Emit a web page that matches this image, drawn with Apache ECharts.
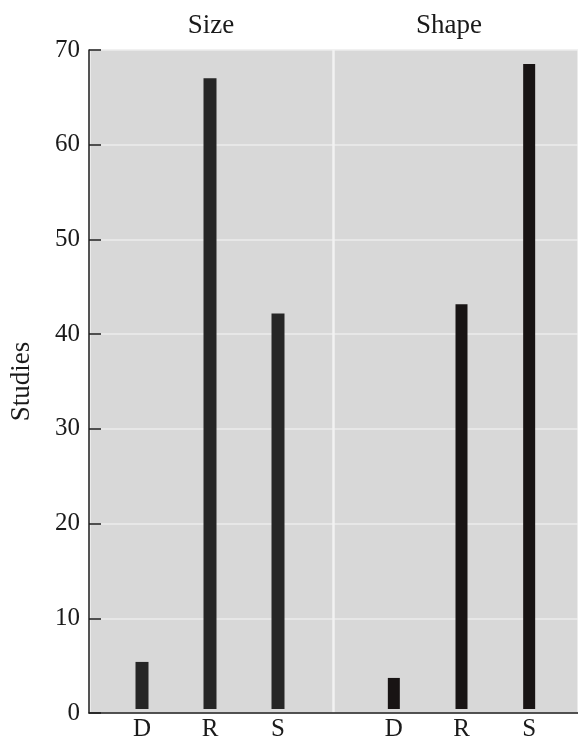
<!DOCTYPE html>
<html>
<head>
<meta charset="utf-8">
<script src="https://cdn.jsdelivr.net/npm/echarts@6/dist/echarts.min.js"></script>
<style>
  html, body { margin: 0; padding: 0; background: #ffffff; }
  #chart { width: 578px; height: 742px; }
</style>
</head>
<body>
<div id="chart"></div>
<script>
const groups = ['Size', 'Shape'];
const categories = ['D', 'R', 'S'];
const sizeValues = [5, 67, 42];
const shapeValues = [3.3, 43, 68.5];
const yAxisName = 'Studies';
const yMin = 0, yMax = 70, yInterval = 10;

const FONT = 'Liberation Serif';
const TOP = 50, BOTTOM = 29;
const chart = echarts.init(document.getElementById('chart'), null, { renderer: 'canvas' });

const titleStyle = { fontFamily: FONT, fontSize: 27, fontWeight: 'normal', color: '#1a1a1a' };
const option = {
  backgroundColor: '#ffffff',
  animation: false,
  title: [
    { text: groups[0], left: 211, top: 12, textAlign: 'center', padding: 0, textStyle: titleStyle },
    { text: groups[1], left: 449, top: 12, textAlign: 'center', padding: 0, textStyle: titleStyle }
  ],
  grid: [
    { left: 89, right: 0, top: TOP, bottom: BOTTOM, show: true, backgroundColor: '#d8d8d8', borderWidth: 0, containLabel: false },
    { left: 108, width: 204, top: TOP, bottom: BOTTOM, containLabel: false },
    { left: 360, width: 203, top: TOP, bottom: BOTTOM, containLabel: false }
  ],
  xAxis: [
    { gridIndex: 0, type: 'value', min: 0, max: 2, interval: 1,
      axisLine: { show: true, onZero: false, lineStyle: { color: '#1e1e1e', width: 1.5 } },
      axisTick: { show: false }, axisLabel: { show: false },
      splitLine: { show: true, lineStyle: { color: '#f2f2f2', width: 2.5 } } },
    { gridIndex: 1, type: 'category', data: categories,
      axisLine: { show: false }, axisTick: { show: false },
      axisLabel: { fontFamily: FONT, fontSize: 25, color: '#1a1a1a', margin: 8 } },
    { gridIndex: 2, type: 'category', data: categories,
      axisLine: { show: false }, axisTick: { show: false },
      axisLabel: { fontFamily: FONT, fontSize: 25, color: '#1a1a1a', margin: 8 } }
  ],
  yAxis: [
    { gridIndex: 0, type: 'value', min: yMin, max: yMax, interval: yInterval,
      name: yAxisName, nameLocation: 'middle', nameGap: 54, nameRotate: 90,
      nameTextStyle: { fontFamily: FONT, fontSize: 27, color: '#1a1a1a' },
      axisLine: { show: true, lineStyle: { color: '#1e1e1e', width: 1.5 } },
      axisTick: { show: true, inside: true, length: 12, lineStyle: { color: '#1e1e1e', width: 1.5 } },
      axisLabel: { fontFamily: FONT, fontSize: 25, color: '#1a1a1a', margin: 9 },
      splitLine: { show: true, lineStyle: { color: '#ececec', width: 1.5 } } },
    { gridIndex: 1, type: 'value', min: yMin, max: yMax, show: false },
    { gridIndex: 2, type: 'value', min: yMin, max: yMax, show: false }
  ],
  series: [
    { type: 'bar', name: groups[0], xAxisIndex: 1, yAxisIndex: 1, data: sizeValues,
      barWidth: 13, itemStyle: { color: '#262626' } },
    { type: 'bar', name: groups[1], xAxisIndex: 2, yAxisIndex: 2, data: shapeValues,
      barWidth: 12, itemStyle: { color: '#181414' } }
  ]
};
chart.setOption(option);
</script>
</body>
</html>
